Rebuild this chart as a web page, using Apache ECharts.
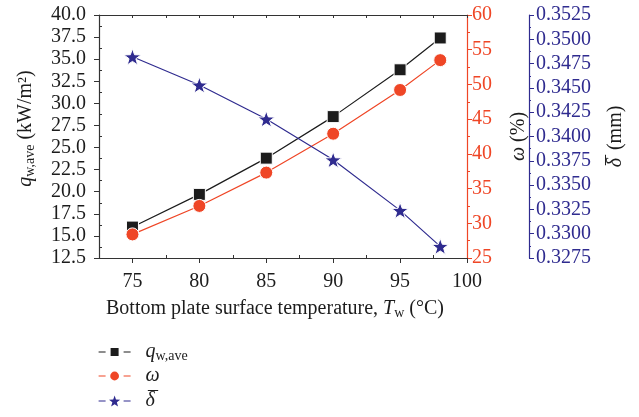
<!DOCTYPE html>
<html>
<head>
<meta charset="utf-8">
<script src="https://cdn.jsdelivr.net/npm/echarts@6/dist/echarts.min.js"></script>
<style>html,body{margin:0;padding:0;background:#fff}#c{width:639px;height:417px}</style>
</head>
<body>
<div id="c"></div>
<script>
var temps = [75, 80, 85, 90, 95, 98];
var qAve = [16.0, 19.7, 23.8, 28.5, 33.8, 37.4];
var omega = [28.4, 32.5, 37.3, 42.9, 49.2, 53.5];
var delta = [0.3482, 0.3453, 0.3418, 0.3376, 0.3324, 0.3287];
var xMajorTicks = [75, 80, 85, 90, 95, 100];
var xMinorTicks = [72.5, 77.5, 82.5, 87.5, 92.5, 97.5];
var yLeftMinor = [13.75, 16.25, 18.75, 21.25, 23.75, 26.25, 28.75, 31.25, 33.75, 36.25, 38.75];

var FONT = 'Liberation Serif';
var FS = 20;
var BLACK = '#1c1c1c';
var RED = '#ef4626';
var BLUE = '#2f2b8f';
var AX = '#333333';

function pairs(xs, ys) { return xs.map(function (x, i) { return [x, ys[i]]; }); }
var star = 'path://M0,-10L2.35,-3.24L9.51,-3.09L3.8,1.24L5.88,8.09L0,4.2L-5.88,8.09L-3.8,1.24L-9.51,-3.09L-2.35,-3.24Z';

function richSet(color) {
  return {
    i: { fontFamily: FONT, fontSize: FS, fontStyle: 'italic', color: color, lineHeight: 22, verticalAlign: 'middle' },
    m: { fontFamily: FONT, fontSize: FS, color: color, lineHeight: 22, verticalAlign: 'middle', padding: [0, 0, 0, -7] },
    s: { fontFamily: FONT, fontSize: 14, color: color, lineHeight: 11, verticalAlign: 'bottom' },
    n: { fontFamily: FONT, fontSize: FS, color: color, lineHeight: 22, verticalAlign: 'middle' }
  };
}
var DBAR = '{i|δ}{m|¯}';
var legendNames = { q: '{i|q}{s|w,ave}', w: '{i|ω}', d: DBAR };
function makeLegend(name, top, ih) {
  return {
    orient: 'vertical', left: 98, top: top, padding: 0,
    itemWidth: 32, itemHeight: ih,
    lineStyle: { type: [7, 18], width: 1.2 },
    textStyle: { fontFamily: FONT, fontSize: FS, color: BLACK, padding: [0, 0, 0, 10], rich: richSet(BLACK) },
    formatter: function (n) { return legendNames[n]; },
    data: [{ name: name, itemStyle: { borderWidth: 0 } }]
  };
}

var chart = echarts.init(document.getElementById('c'));
chart.setOption({
  animation: false,
  backgroundColor: '#fff',
  textStyle: { fontFamily: FONT },
  grid: { left: 99, top: 15, right: 172, bottom: 159 },
  legend: [makeLegend('q', 342, 10), makeLegend('w', 366, 11), makeLegend('d', 391, 14)],
  xAxis: [
    {
      type: 'value', position: 'bottom', min: 72.5, max: 100, interval: 2.5,
      name: '{n|Bottom plate surface temperature, }{i|T}{s|w}{n| (°C)}', nameLocation: 'middle', nameGap: 40,
      nameTextStyle: { fontFamily: FONT, fontSize: FS, color: BLACK, padding: [0, 16, 0, 0], rich: richSet(BLACK) },
      axisLine: { show: true, lineStyle: { color: AX, width: 1.2 } },
      axisTick: { show: true, customValues: xMajorTicks, length: 5, lineStyle: { color: AX } },
      axisLabel: { customValues: xMajorTicks, margin: 14, fontFamily: FONT, fontSize: FS, color: BLACK },
      splitLine: { show: false }
    },
    {
      type: 'value', position: 'bottom', min: 72.5, max: 100, interval: 2.5,
      axisLine: { show: false },
      axisTick: { show: true, inside: true, customValues: xMinorTicks, length: 3, lineStyle: { color: AX } },
      axisLabel: { show: false }, splitLine: { show: false }
    },
    {
      type: 'value', position: 'top', min: 72.5, max: 100, interval: 2.5,
      axisLine: { show: true, lineStyle: { color: AX, width: 1.2 } },
      axisTick: { show: true, inside: true, length: 3, lineStyle: { color: AX } },
      axisLabel: { show: false }, splitLine: { show: false }
    }
  ],
  yAxis: [
    {
      type: 'value', position: 'left', min: 12.5, max: 40, interval: 2.5,
      name: '{i|q}{s|w,ave}{n| (kW/m²)}', nameLocation: 'middle', nameGap: 62, nameRotate: 90,
      nameTextStyle: { fontFamily: FONT, fontSize: FS, color: BLACK, padding: [0, 0, 0, 16], rich: richSet(BLACK) },
      axisLine: { show: true, lineStyle: { color: AX, width: 1.2 } },
      axisTick: { show: true, length: 5, lineStyle: { color: AX } },
      axisLabel: { margin: 13, fontFamily: FONT, fontSize: FS, color: BLACK, formatter: function (v) { return v.toFixed(1); } },
      splitLine: { show: false }
    },
    {
      type: 'value', position: 'left', min: 12.5, max: 40, interval: 2.5,
      axisLine: { show: false },
      axisTick: { show: true, inside: true, customValues: yLeftMinor, length: 3, lineStyle: { color: AX } },
      axisLabel: { show: false }, splitLine: { show: false }
    },
    {
      type: 'value', position: 'right', min: 25, max: 60, interval: 5,
      name: '{i|ω}{n| (%)}', nameLocation: 'middle', nameGap: 41, nameRotate: 90,
      nameTextStyle: { fontFamily: FONT, fontSize: FS, color: BLACK, rich: richSet(BLACK) },
      axisLine: { show: true, lineStyle: { color: RED, width: 1.2 } },
      axisTick: { show: true, length: 5, lineStyle: { color: RED } },
      minorTick: { show: true, splitNumber: 2, length: 3, lineStyle: { color: RED } },
      axisLabel: { margin: 5, fontFamily: FONT, fontSize: FS, color: RED },
      splitLine: { show: false }, minorSplitLine: { show: false }
    },
    {
      type: 'value', position: 'right', offset: 62, min: 0.3275, max: 0.3525, interval: 0.0025,
      name: DBAR + '{n| (mm)}', nameLocation: 'middle', nameGap: 76, nameRotate: 90,
      nameTextStyle: { fontFamily: FONT, fontSize: FS, color: BLACK, rich: richSet(BLACK) },
      axisLine: { show: true, lineStyle: { color: BLUE, width: 1.2 } },
      axisTick: { show: true, length: 5, lineStyle: { color: BLUE } },
      minorTick: { show: true, splitNumber: 2, length: 2, lineStyle: { color: BLUE } },
      axisLabel: { margin: 7, fontFamily: FONT, fontSize: FS, color: BLUE, formatter: function (v) { return v.toFixed(4); } },
      splitLine: { show: false }, minorSplitLine: { show: false }
    }
  ],
  series: [
    {
      name: 'q', type: 'line', xAxisIndex: 0, yAxisIndex: 0, data: pairs(temps, qAve),
      symbol: 'rect', symbolSize: 12, color: BLACK,
      lineStyle: { color: BLACK, width: 1.2 },
      itemStyle: { color: BLACK, borderColor: '#fff', borderWidth: 1 }
    },
    {
      name: 'w', type: 'line', xAxisIndex: 0, yAxisIndex: 2, data: pairs(temps, omega),
      symbol: 'circle', symbolSize: 13, color: RED,
      lineStyle: { color: RED, width: 1.2 },
      itemStyle: { color: RED, borderColor: '#fff', borderWidth: 1 }
    },
    {
      name: 'd', type: 'line', xAxisIndex: 0, yAxisIndex: 3, data: pairs(temps, delta),
      symbol: star, symbolSize: 17, symbolKeepAspect: true, color: BLUE,
      lineStyle: { color: BLUE, width: 1.2 },
      itemStyle: { color: BLUE, borderColor: '#fff', borderWidth: 1 }
    }
  ]
});
</script>
</body>
</html>
